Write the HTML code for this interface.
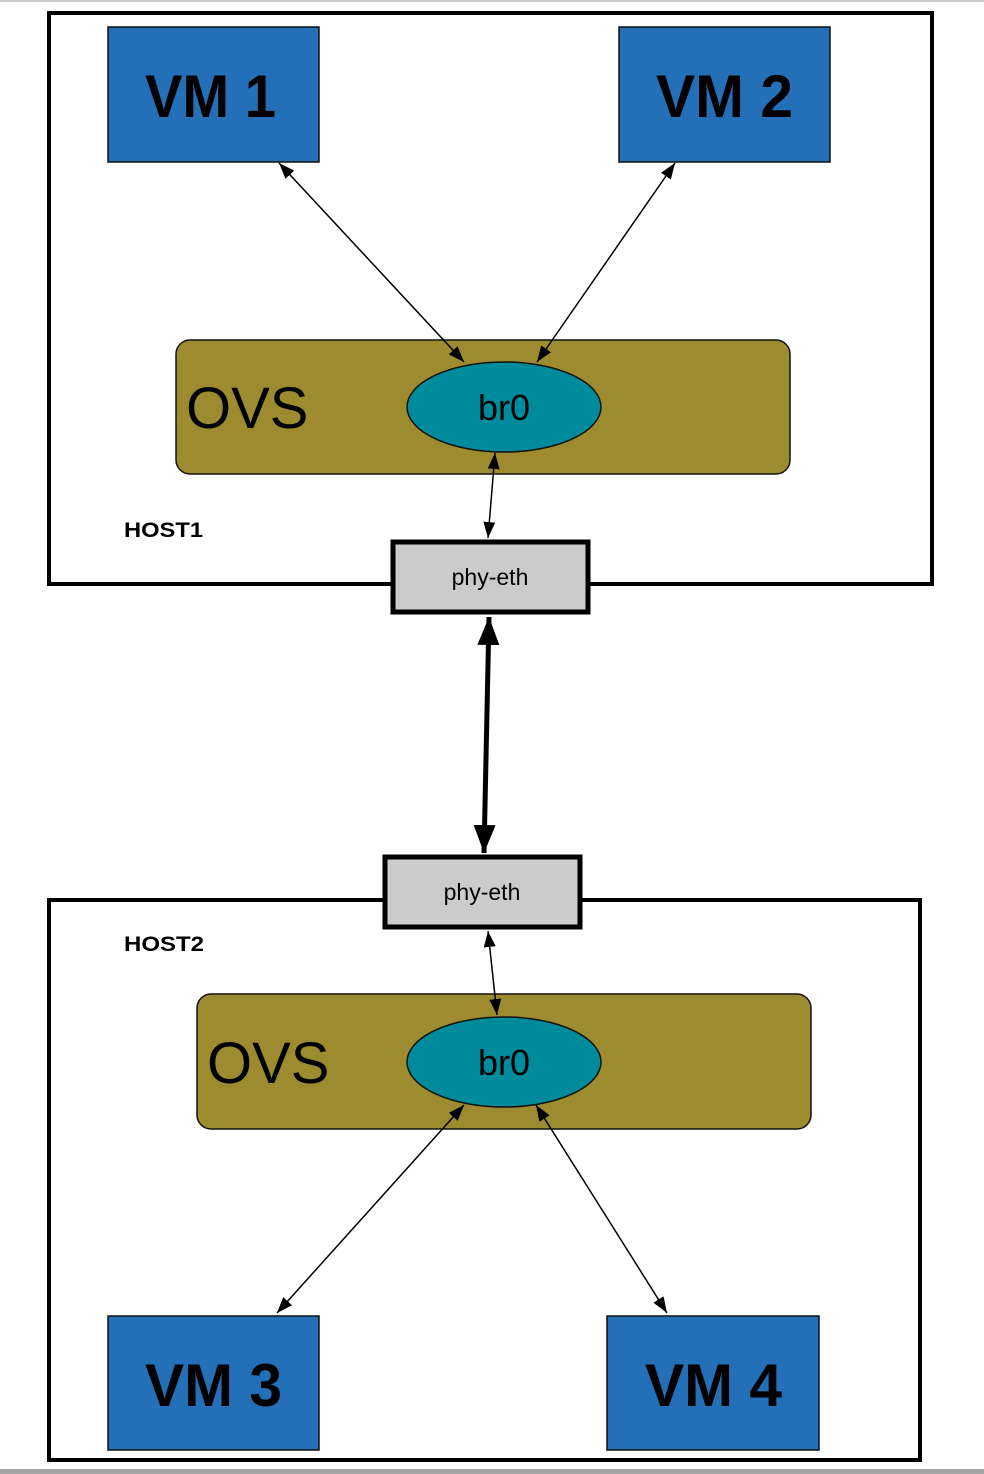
<!DOCTYPE html>
<html><head><meta charset="utf-8"><style>
html,body{margin:0;padding:0;background:#fff;}
svg{display:block;}
text{font-family:"Liberation Sans",Arial,sans-serif;}
</style></head><body>
<svg width="984" height="1474" viewBox="0 0 984 1474" xmlns="http://www.w3.org/2000/svg">
<defs>
<marker id="a" viewBox="0 0 16 12" refX="16" refY="6" markerWidth="16" markerHeight="12" markerUnits="userSpaceOnUse" orient="auto-start-reverse">
<path d="M0,0 L16,6 L0,12 Z" fill="#000"/></marker>
<marker id="c" viewBox="0 0 28 22" refX="28" refY="11" markerWidth="28" markerHeight="22" markerUnits="userSpaceOnUse" orient="auto-start-reverse">
<path d="M0,0 L28,11 L0,22 Z" fill="#000"/></marker>
</defs>
<rect x="0" y="0" width="984" height="2" fill="#ccc"/>
<rect x="0" y="1469" width="984" height="5" fill="#a5a5a5"/>
<!-- host1 -->
<rect x="49" y="13" width="883" height="571" fill="#fff" stroke="#000" stroke-width="4"/>
<rect x="108" y="27" width="211" height="135" fill="#236fb8" stroke="#111" stroke-width="1.5"/>
<text x="145" y="117" font-size="60" font-weight="bold" textLength="131" lengthAdjust="spacingAndGlyphs">VM 1</text>
<rect x="619" y="27" width="211" height="135" fill="#236fb8" stroke="#111" stroke-width="1.5"/>
<text x="656" y="117" font-size="60" font-weight="bold" textLength="137" lengthAdjust="spacingAndGlyphs">VM 2</text>
<rect x="176" y="340" width="614" height="134" rx="14" fill="#9c8b2f" stroke="#111" stroke-width="1.5"/>
<text x="186" y="428" font-size="58">OVS</text>
<ellipse cx="504" cy="407" rx="97" ry="45" fill="#008b9c" stroke="#111" stroke-width="1.5"/>
<text x="504" y="420" font-size="36" text-anchor="middle">br0</text>
<text x="124" y="537" font-size="21" font-weight="bold" textLength="79" lengthAdjust="spacingAndGlyphs">HOST1</text>
<line x1="279" y1="163" x2="464" y2="362" stroke="#000" stroke-width="1.5" marker-start="url(#a)" marker-end="url(#a)"/>
<line x1="675" y1="163" x2="537" y2="362" stroke="#000" stroke-width="1.5" marker-start="url(#a)" marker-end="url(#a)"/>
<line x1="495" y1="453" x2="488" y2="538" stroke="#000" stroke-width="1.5" marker-start="url(#a)" marker-end="url(#a)"/>
<rect x="393" y="542" width="195" height="70" fill="#cbcbcb" stroke="#000" stroke-width="5"/>
<text x="490" y="585" font-size="23" text-anchor="middle">phy-eth</text>
<!-- link -->
<line x1="489" y1="617" x2="484" y2="853" stroke="#000" stroke-width="5" marker-start="url(#c)" marker-end="url(#c)"/>
<!-- host2 -->
<rect x="49" y="900" width="871" height="560" fill="#fff" stroke="#000" stroke-width="4"/>
<rect x="385" y="857" width="195" height="70" fill="#cbcbcb" stroke="#000" stroke-width="5"/>
<text x="482" y="900" font-size="23" text-anchor="middle">phy-eth</text>
<text x="124" y="951" font-size="21" font-weight="bold" textLength="80" lengthAdjust="spacingAndGlyphs">HOST2</text>
<rect x="197" y="994" width="614" height="135" rx="14" fill="#9c8b2f" stroke="#111" stroke-width="1.5"/>
<text x="207" y="1083" font-size="58">OVS</text>
<ellipse cx="504" cy="1062" rx="97" ry="45" fill="#008b9c" stroke="#111" stroke-width="1.5"/>
<text x="504" y="1075" font-size="36" text-anchor="middle">br0</text>
<line x1="488" y1="931" x2="497" y2="1015" stroke="#000" stroke-width="1.5" marker-start="url(#a)" marker-end="url(#a)"/>
<line x1="464" y1="1105" x2="277" y2="1313" stroke="#000" stroke-width="1.5" marker-start="url(#a)" marker-end="url(#a)"/>
<line x1="536" y1="1105" x2="667" y2="1313" stroke="#000" stroke-width="1.5" marker-start="url(#a)" marker-end="url(#a)"/>
<rect x="108" y="1316" width="211" height="134" fill="#236fb8" stroke="#111" stroke-width="1.5"/>
<text x="145" y="1406" font-size="60" font-weight="bold" textLength="137" lengthAdjust="spacingAndGlyphs">VM 3</text>
<rect x="607" y="1316" width="212" height="134" fill="#236fb8" stroke="#111" stroke-width="1.5"/>
<text x="645" y="1406" font-size="60" font-weight="bold" textLength="137" lengthAdjust="spacingAndGlyphs">VM 4</text>
</svg>
</body></html>
